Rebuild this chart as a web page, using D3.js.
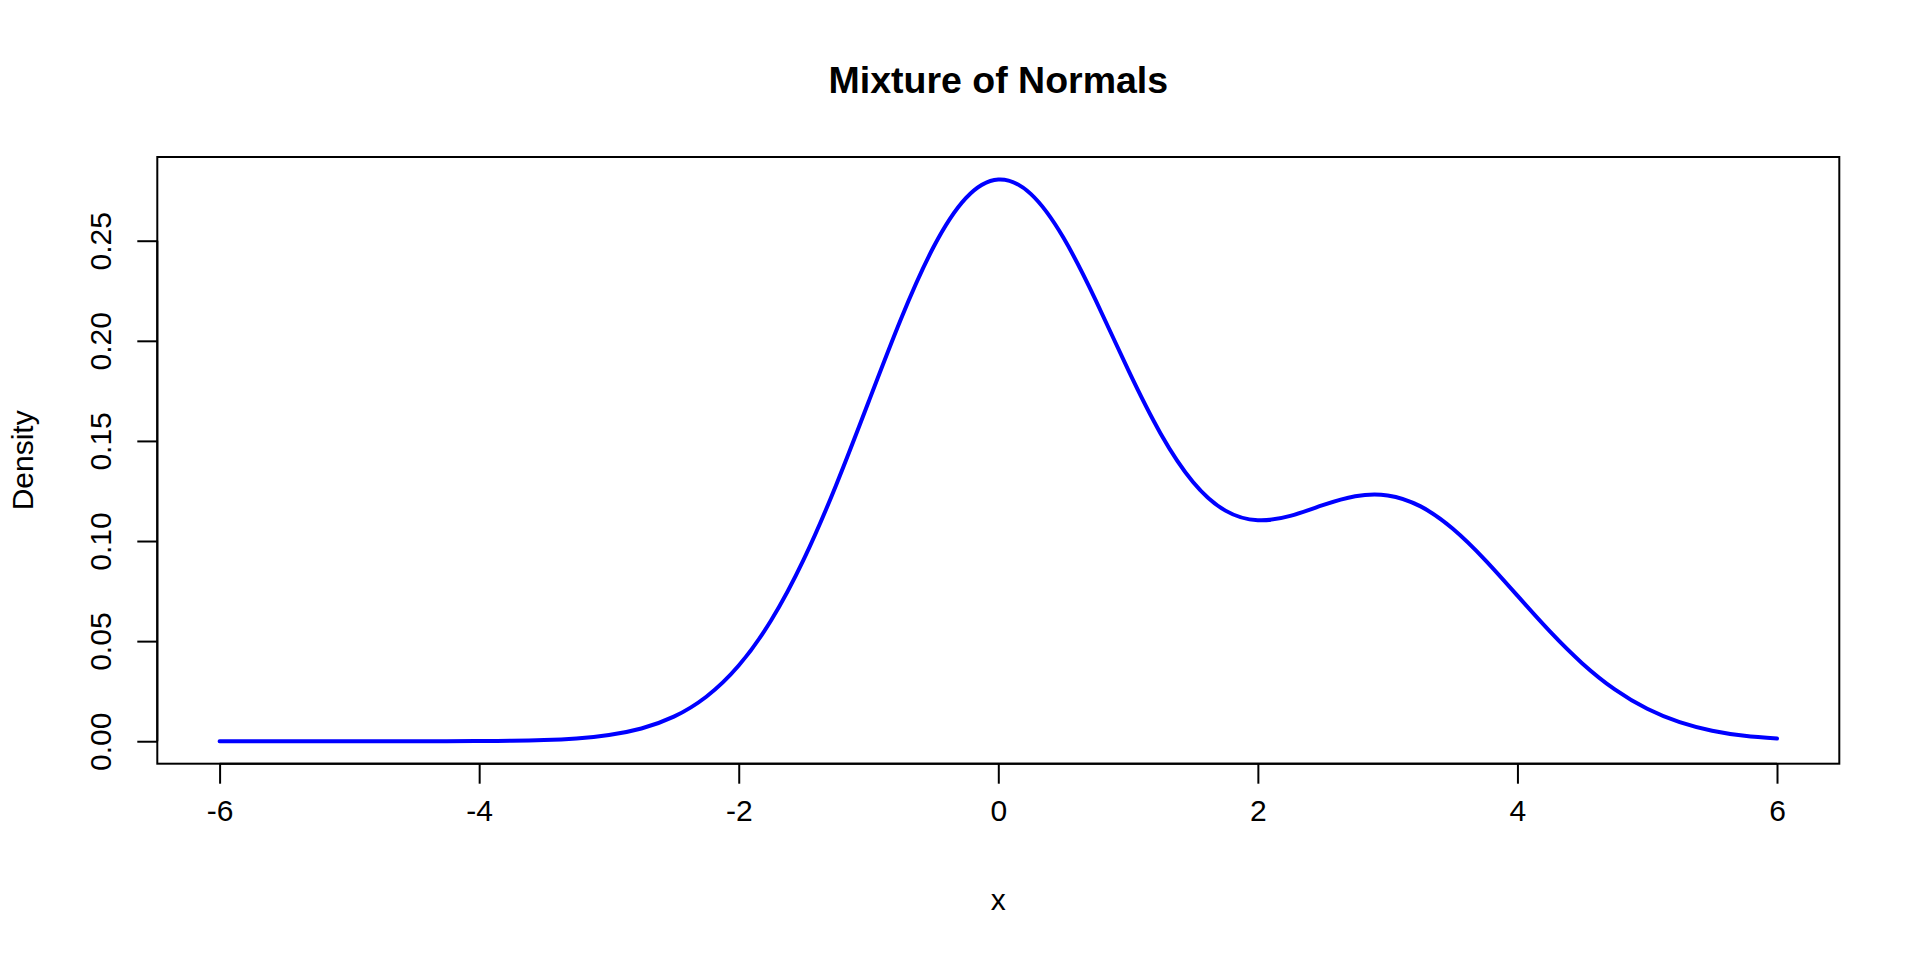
<!DOCTYPE html>
<html>
<head>
<meta charset="utf-8">
<script src="https://cdn.jsdelivr.net/npm/d3@7"></script>
<style>
  html, body { margin:0; padding:0; background:#fff; }
  text { font-family: "Liberation Sans", Arial, Helvetica, sans-serif; fill:#000; }
</style>
</head>
<body>
<div id="chart"></div>
<script>
// density curve, every 0.25 on x
var density_x = [-6,-5.75,-5.5,-5.25,-5,-4.75,-4.5,-4.25,-4,-3.75,-3.5,-3.25,-3,-2.75,-2.5,-2.25,
                 -2,-1.75,-1.5,-1.25,-1,-0.75,-0.5,-0.25,0,0.25,0.5,0.75,1,1.25,1.5,1.75,
                 2,2.25,2.5,2.75,3,3.25,3.5,3.75,4,4.25,4.5,4.75,5,5.25,5.5,5.75,6];
var density_y = [0,0,0.0000001,0.0000003,0.000001,0.0000035,0.0000112,0.0000334,0.000094,0.000247,0.000611,0.00142,0.0031,0.00637,0.01227,0.02222,
                 0.03779,0.06039,0.09067,0.12787,0.16942,0.2109,0.24671,0.27128,0.28059,0.2734,0.25171,0.22032,0.18558,0.15374,0.12952,0.11519,
                 0.11038,0.11256,0.11789,0.12237,0.12279,0.11742,0.10623,0.09059,0.07269,0.05483,0.03887,0.02589,0.0162,0.00952,0.00526,0.00273,0.00133];
var x_ticks = [-6,-4,-2,0,2,4,6];
var y_ticks = [0,0.05,0.1,0.15,0.2,0.25];
var chart_title = "Mixture of Normals";
var x_title = "x";
var y_title = "Density";

var size = {
  width:1920,
  height:960,
  left:157.3,
  top:157,
  right:1839.3,
  bottom:763.7
};

var points = density_x.map(function(d,i){ return {x:d, y:density_y[i]}; });

// R style 4% padding on both axes
var xr = d3.extent(density_x), yr = d3.extent(density_y);
var xpad = (xr[1]-xr[0])*0.04, ypad = (yr[1]-yr[0])*0.04;

var x = d3.scaleLinear().domain([xr[0]-xpad, xr[1]+xpad]).range([size.left, size.right]);
var y = d3.scaleLinear().domain([yr[0]-ypad, yr[1]+ypad]).range([size.bottom, size.top]);

var svg = d3.select("#chart").append("svg")
            .attr("width", size.width)
            .attr("height", size.height);

svg.append("rect")
   .attr("width", size.width)
   .attr("height", size.height)
   .attr("fill", "#fff");

var line = d3.line()
             .x(function(d){ return x(d.x); })
             .y(function(d){ return y(d.y); })
             .curve(d3.curveNatural);

svg.append("path")
   .datum(points)
   .attr("d", line)
   .attr("fill", "none")
   .attr("stroke", "#0000ff")
   .attr("stroke-width", 4)
   .attr("stroke-linecap", "round")
   .attr("stroke-linejoin", "round");

// box
svg.append("rect")
   .attr("x", size.left)
   .attr("y", size.top)
   .attr("width", size.right - size.left)
   .attr("height", size.bottom - size.top)
   .attr("fill", "none")
   .attr("stroke", "#000")
   .attr("stroke-width", 2);

// x axis
var xAxis = d3.axisBottom(x)
              .tickValues(x_ticks)
              .tickSize(20)
              .tickPadding(16)
              .tickFormat(d3.format("d"));

var gx = svg.append("g")
            .attr("transform", "translate(0," + size.bottom + ")")
            .call(xAxis);
gx.select(".domain")
  .attr("d", "M" + x(x_ticks[0]) + ",0H" + x(x_ticks[x_ticks.length-1]))
  .attr("stroke-width", 2);
gx.selectAll(".tick line").attr("stroke-width", 2);
gx.selectAll(".tick text")
  .attr("font-size", 30)
  .style("font-family", "'Liberation Sans', Arial, sans-serif")
  .text(function(d){ return d3.format("d")(d).replace("\u2212", "-"); });

// y axis
var yAxis = d3.axisLeft(y)
              .tickValues(y_ticks)
              .tickSize(20)
              .tickFormat(d3.format(".2f"));

var gy = svg.append("g")
            .attr("transform", "translate(" + size.left + ",0)")
            .call(yAxis);
gy.select(".domain")
  .attr("d", "M0," + y(y_ticks[0]) + "V" + y(y_ticks[y_ticks.length-1]))
  .attr("stroke-width", 2);
gy.selectAll(".tick line").attr("stroke-width", 2);
gy.selectAll(".tick text")
  .attr("x", null)
  .attr("dy", null)
  .attr("font-size", 30)
  .style("font-family", "'Liberation Sans', Arial, sans-serif")
  .attr("text-anchor", "middle")
  .attr("transform", "translate(-46,0) rotate(-90)");

// titles
svg.append("text")
   .attr("x", (size.left + size.right)/2)
   .attr("y", 93)
   .attr("text-anchor", "middle")
   .attr("font-size", 37.5)
   .attr("font-weight", "bold")
   .text(chart_title);

svg.append("text")
   .attr("x", (size.left + size.right)/2)
   .attr("y", 910)
   .attr("text-anchor", "middle")
   .attr("font-size", 30)
   .text(x_title);

svg.append("text")
   .attr("transform", "translate(33," + (size.top + size.bottom)/2 + ") rotate(-90)")
   .attr("text-anchor", "middle")
   .attr("font-size", 30)
   .text(y_title);
</script>
</body>
</html>
